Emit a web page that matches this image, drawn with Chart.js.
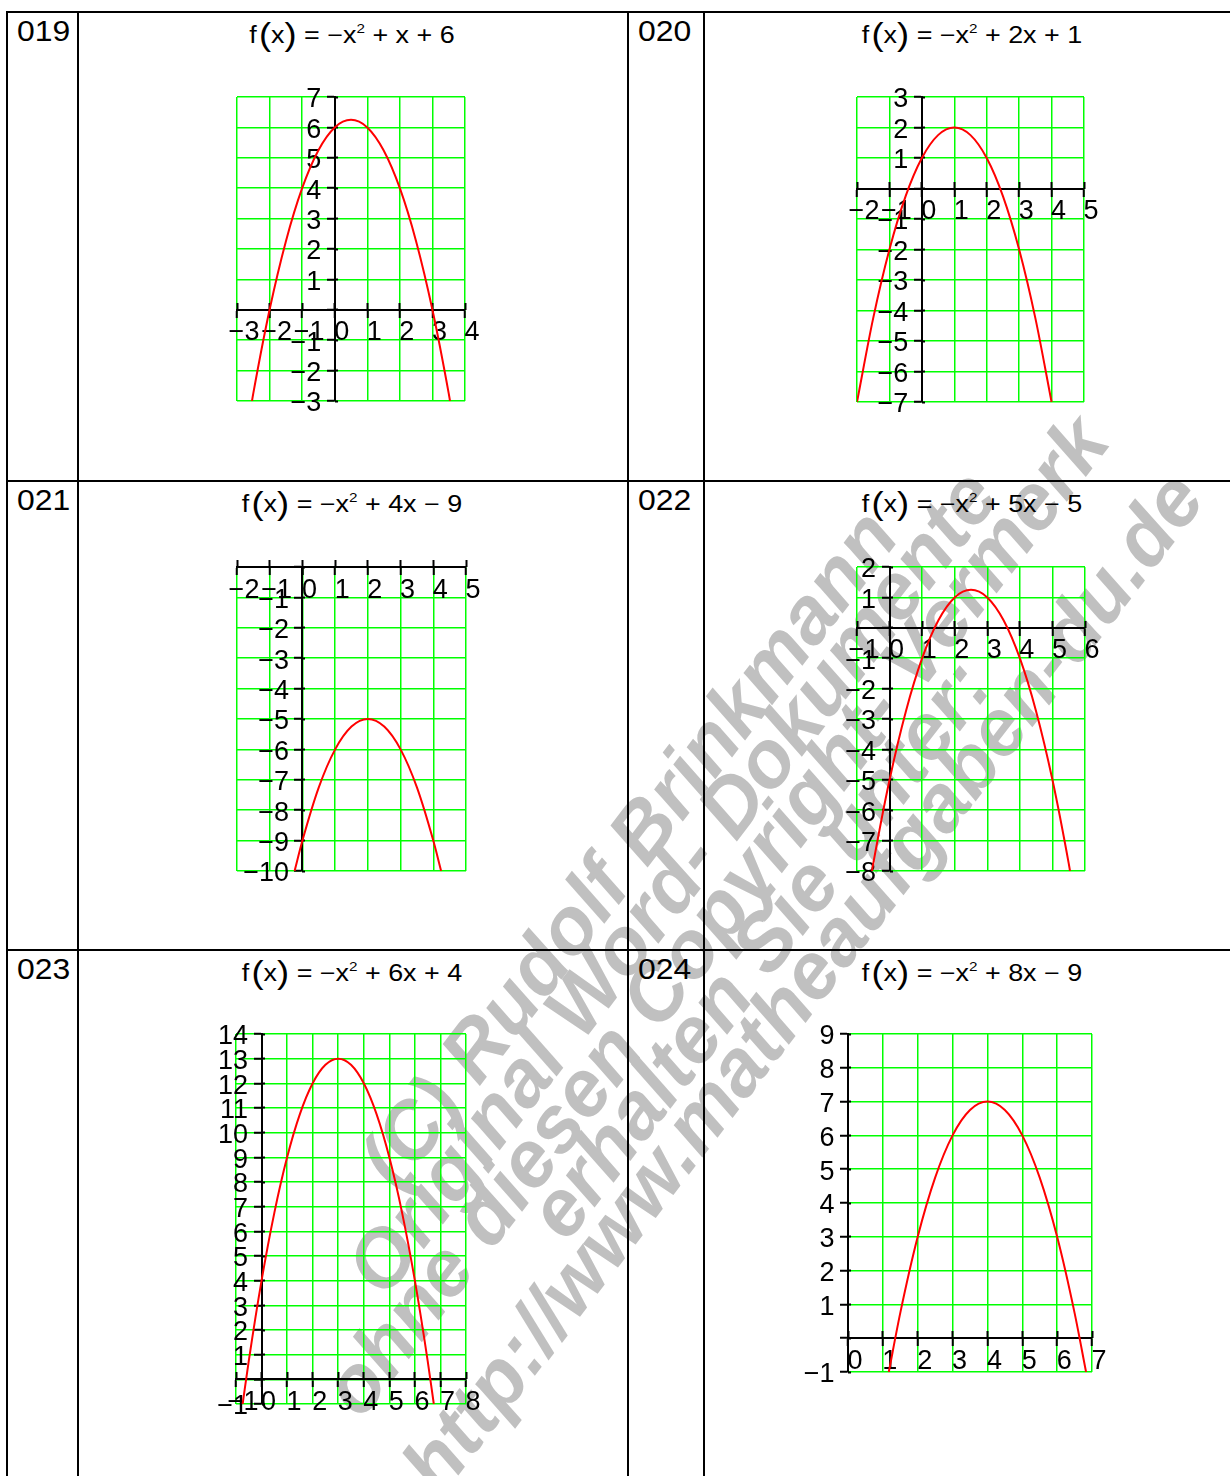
<!DOCTYPE html>
<html>
<head>
<meta charset="utf-8">
<script src="https://cdn.jsdelivr.net/npm/chart.js@4.4.1/dist/chart.umd.min.js"></script>
<style>
  body { margin: 0; width: 1230px; height: 1476px; position: relative; background: #fff; overflow: hidden;
         font-family: 'Liberation Sans', Arial, sans-serif; }
  .ln { position: absolute; background: #000; z-index: 2; }
  .num { position: absolute; font-size: 29px; line-height: 29px; z-index: 2;
         transform-origin: 0 0; transform: scaleX(1.1); }
  .ttl { position: absolute; font-size: 23px; line-height: 30px; white-space: nowrap; z-index: 2;
         transform: translateX(-50%) scaleX(1.17); }
  .ttl .p { font-size: 31px; vertical-align: -2px; }
  .ttl sup { font-size: 13px; vertical-align: 10px; line-height: 0; }
  canvas { position: absolute; z-index: 3; }
  #wm { position: absolute; left: 715px; top: 915px; z-index: 1; color: #c0c0c0;
        font: italic bold 80px/55px 'Liberation Sans', Arial, sans-serif; text-align: center; white-space: nowrap;
        transform: translate(-50%, -50%) rotate(-52.5deg); }
</style>
</head>
<body>
<div id="wm">(C) Rudolf Brinkmann<br>Original Word- Dokumente<br>ohne diesen Copyright- Vermerk<br>erhalten Sie unter:<br>http://www.matheaufgaben-du.de</div>
<script>
// task numbers and the terms of each function
const taskIds = ['019', '020', '021', '022', '023', '024'];
const titleTails = ['+ x + 6', '+ 2x + 1', '+ 4x \u2212 9', '+ 5x \u2212 5', '+ 6x + 4', '+ 8x \u2212 9'];

// axis ranges [min, max]
const xRange019 = [-3, 4], yRange019 = [-3, 7];
const xRange020 = [-2, 5], yRange020 = [-7, 3];
const xRange021 = [-2, 5], yRange021 = [-10, 0];
const xRange022 = [-1, 6], yRange022 = [-8, 2];
const xRange023 = [-1, 8], yRange023 = [-1, 14];
const xRange024 = [0, 7],  yRange024 = [-1, 9];

// curve points
const x019 = [-2.54, -2.5, -2, -1.5, -1, -0.5, 0, 0.5, 1, 1.5, 2, 2.5, 3, 3.5, 3.54];
const y019 = [-3, -2.75, 0, 2.25, 4, 5.25, 6, 6.25, 6, 5.25, 4, 2.25, 0, -2.75, -3];
const x020 = [-2, -1.5, -1, -0.5, 0, 0.5, 1, 1.5, 2, 2.5, 3, 3.5, 4];
const y020 = [-7, -4.25, -2, -0.25, 1, 1.75, 2, 1.75, 1, -0.25, -2, -4.25, -7];
const x021 = [-0.24, 0, 0.5, 1, 1.5, 2, 2.5, 3, 3.5, 4, 4.24];
const y021 = [-10, -9, -7.25, -6, -5.25, -5, -5.25, -6, -7.25, -9, -10];
const x022 = [-0.54, -0.5, 0, 0.5, 1, 1.5, 2, 2.5, 3, 3.5, 4, 4.5, 5, 5.5, 5.54];
const y022 = [-8, -7.75, -5, -2.75, -1, 0.25, 1, 1.25, 1, 0.25, -1, -2.75, -5, -7.75, -8];
const x023 = [-0.74, -0.5, 0, 0.5, 1, 1.5, 2, 2.5, 3, 3.5, 4, 4.5, 5, 5.5, 6, 6.5, 6.74];
const y023 = [-1, 0.75, 4, 6.75, 9, 10.75, 12, 12.75, 13, 12.75, 12, 10.75, 9, 6.75, 4, 0.75, -1];
const x024 = [1.17, 1.5, 2, 2.5, 3, 3.5, 4, 4.5, 5, 5.5, 6, 6.5, 6.83];
const y024 = [-1, 0.75, 3, 4.75, 6, 6.75, 7, 6.75, 6, 4.75, 3, 0.75, -1];

// page layout (pixels)
const gridBoxes = [
  { x: 237, y: 97,   w: 228, h: 304 },
  { x: 857, y: 97,   w: 227, h: 305 },
  { x: 237, y: 567,  w: 229, h: 304 },
  { x: 857, y: 567,  w: 228, h: 304 },
  { x: 236, y: 1034, w: 230, h: 370 },
  { x: 848, y: 1034, w: 244, h: 338 }
];
const rowTops = [11, 480, 949];
const colLefts = [6, 627];

function line(x, y, w, h) {
  const d = document.createElement('div');
  d.className = 'ln';
  Object.assign(d.style, { left: x + 'px', top: y + 'px', width: w + 'px', height: h + 'px' });
  document.body.appendChild(d);
}
rowTops.forEach(y => line(6, y, 1224, 2));
[6, 77, 627, 703].forEach(x => line(x, 11, 2, 1465));

taskIds.forEach((id, i) => {
  const r = Math.floor(i / 2), c = i % 2;
  const n = document.createElement('div');
  n.className = 'num';
  n.textContent = id;
  n.style.left = (colLefts[c] + 11) + 'px';
  n.style.top = (rowTops[r] + 6) + 'px';
  document.body.appendChild(n);

  const t = document.createElement('div');
  t.className = 'ttl';
  t.innerHTML = 'f\u200a<span class="p">(</span>x<span class="p">)</span> = \u2212x<sup>2</sup> ' + titleTails[i];
  t.style.left = (c === 0 ? 352 : 972) + 'px';
  t.style.top = (rowTops[r] + 9) + 'px';
  document.body.appendChild(t);
});

const tickFont = { family: "'Liberation Sans', Arial, sans-serif", size: 27 };
const fmt = v => (v < 0 ? '\u2212' + (-v) : String(v));
const green = '#00ff00';

function makePlot(box, xs, ys, xr, yr) {
  const P = 50;
  const c = document.createElement('canvas');
  const W = box.w + 2 * P, H = box.h + 2 * P;
  c.width = W; c.height = H;
  Object.assign(c.style, { left: (box.x - P) + 'px', top: (box.y - P) + 'px', width: W + 'px', height: H + 'px' });
  document.body.appendChild(c);

  new Chart(c, {
    type: 'line',
    data: {
      datasets: [{
        data: xs.map((x, i) => ({ x: x, y: ys[i] })),
        xAxisID: 'x', yAxisID: 'y',
        borderColor: '#ff0000', borderWidth: 2, pointRadius: 0,
        cubicInterpolationMode: 'monotone', fill: false
      }]
    },
    options: {
      responsive: false, animation: false, events: [],
      layout: { padding: P },
      plugins: { legend: { display: false }, tooltip: { enabled: false } },
      scales: {
        x: {
          type: 'linear', min: xr[0], max: xr[1], position: { y: 0 },
          ticks: { stepSize: 1, autoSkip: false, maxRotation: 0, font: tickFont, color: '#000',
                   padding: 0, labelOffset: 7, callback: fmt },
          grid: { color: green, lineWidth: 1.5, tickColor: '#000', tickWidth: 2, tickLength: 7 },
          border: { color: '#000', width: 2 }
        },
        xt: {
          axis: 'x', type: 'linear', min: xr[0], max: xr[1], position: { y: 0 },
          ticks: { stepSize: 1, display: false },
          grid: { drawOnChartArea: false, tickColor: '#000', tickWidth: 2, tickLength: -7 },
          border: { display: false }
        },
        y: {
          type: 'linear', min: yr[0], max: yr[1], position: { x: 0 },
          ticks: { stepSize: 1, autoSkip: false, font: tickFont, color: '#000', labelOffset: 3,
                   callback: v => (v === 0 ? '' : fmt(v) + '\u2002') },
          grid: { color: green, lineWidth: 1.5, tickColor: '#000', tickWidth: 2, tickLength: 7 },
          border: { color: '#000', width: 2 }
        },
        yr: {
          axis: 'y', type: 'linear', min: yr[0], max: yr[1], position: { x: 0 },
          ticks: { stepSize: 1, display: false },
          grid: { drawOnChartArea: false, tickColor: '#000', tickWidth: 2, tickLength: -3 },
          border: { display: false }
        }
      }
    }
  });
}

makePlot(gridBoxes[0], x019, y019, xRange019, yRange019);
makePlot(gridBoxes[1], x020, y020, xRange020, yRange020);
makePlot(gridBoxes[2], x021, y021, xRange021, yRange021);
makePlot(gridBoxes[3], x022, y022, xRange022, yRange022);
makePlot(gridBoxes[4], x023, y023, xRange023, yRange023);
makePlot(gridBoxes[5], x024, y024, xRange024, yRange024);
</script>
</body>
</html>
